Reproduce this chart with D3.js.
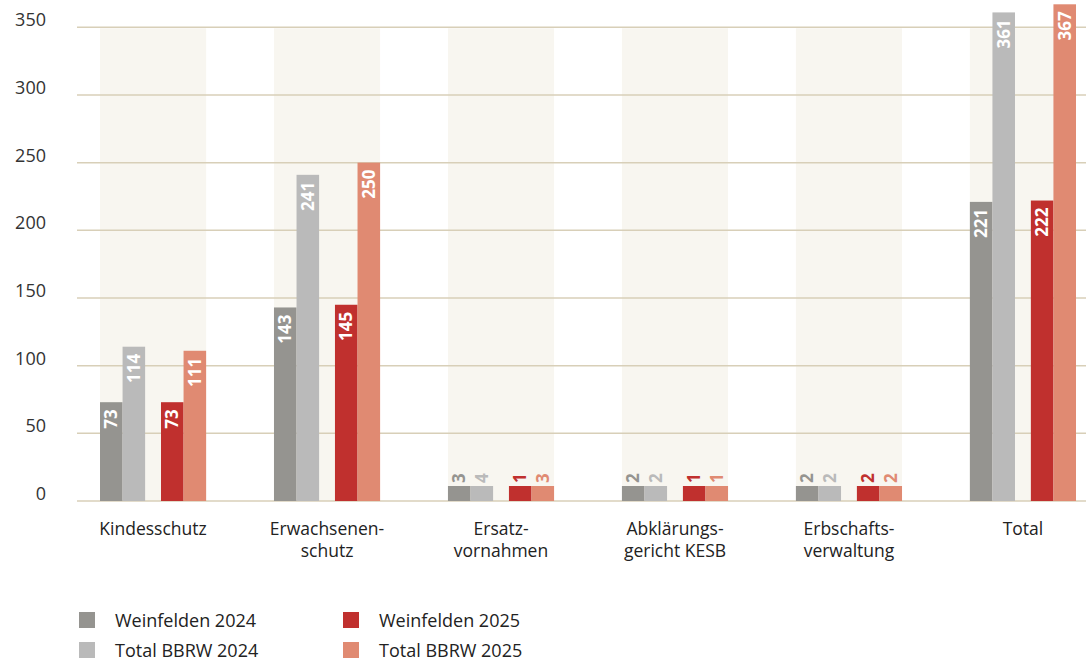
<!DOCTYPE html>
<html>
<head>
<meta charset="utf-8">
<script src="https://cdn.jsdelivr.net/npm/d3@7"></script>
<style>
  body { margin: 0; background: #fff; }
  svg { display: block; font-family: "Open Sans", "Noto Sans", sans-serif; }
</style>
</head>
<body>
<div id="chart"></div>
<script>
const categories = ["Kindesschutz", "Erwachsenen-\nschutz", "Ersatz-\nvornahmen", "Abklärungs-\ngericht KESB", "Erbschafts-\nverwaltung", "Total"];
const seriesNames = ["Weinfelden 2024", "Total BBRW 2024", "Weinfelden 2025", "Total BBRW 2025"];
const weinfelden2024 = [73, 143, 3, 2, 2, 221];
const totalBBRW2024 = [114, 241, 4, 2, 2, 361];
const weinfelden2025 = [73, 145, 1, 1, 2, 222];
const totalBBRW2025 = [111, 250, 3, 1, 2, 367];
const yTicks = [0, 50, 100, 150, 200, 250, 300, 350];

const colors = ["#959490", "#bababa", "#c0302e", "#e08a72"];
const values = [weinfelden2024, totalBBRW2024, weinfelden2025, totalBBRW2025];

const width = 1086, height = 664;
const svg = d3.select("#chart").append("svg")
  .attr("width", width)
  .attr("height", height);

const y = d3.scaleLinear().domain([0, 350]).range([501, 27.3]);

const x = d3.scaleBand()
  .domain(categories)
  .range([100, 1076])
  .paddingInner(0.39)
  .paddingOuter(0);

const pair = d3.scaleBand()
  .domain([0, 1])
  .range([0, x.bandwidth()])
  .paddingInner(0.26);

const inner = d3.scaleBand()
  .domain([0, 1])
  .range([0, pair.bandwidth()]);

const barX = (s, i) => x(categories[i]) + pair(Math.floor(s / 2)) + inner(s % 2);
const minBar = 15;
const barTop = v => Math.min(y(v), y(0) - minBar);
const isBig = v => y(0) - barTop(v) > 40;

// category background bands
svg.append("g")
  .selectAll("rect")
  .data(categories)
  .join("rect")
  .attr("x", d => x(d))
  .attr("y", y(350) + 1)
  .attr("width", x.bandwidth())
  .attr("height", y(0) - y(350) - 1)
  .attr("fill", "#f8f6f0");

// grid
svg.append("g")
  .selectAll("line")
  .data(yTicks)
  .join("line")
  .attr("x1", 77)
  .attr("x2", width)
  .attr("y1", d => y(d))
  .attr("y2", d => y(d))
  .attr("stroke", "#d8cfb8")
  .attr("stroke-width", 1.5);

svg.append("g")
  .selectAll("text")
  .data(yTicks)
  .join("text")
  .attr("x", 46)
  .attr("y", d => y(d) - 1)
  .attr("text-anchor", "end")
  .style("font-size", "18px")
  .style("fill", "#333")
  .text(d => d);

// bars
values.forEach((vals, s) => {
  const g = svg.append("g").attr("class", "series-" + s);

  g.selectAll("rect")
    .data(vals)
    .join("rect")
    .attr("x", (d, i) => barX(s, i))
    .attr("y", d => barTop(d))
    .attr("width", inner.bandwidth())
    .attr("height", d => y(0) - barTop(d))
    .attr("fill", colors[s]);

  g.selectAll("text")
    .data(vals)
    .join("text")
    .attr("transform", (d, i) => {
      const cx = barX(s, i) + inner.bandwidth() / 2;
      const ty = isBig(d) ? Math.max(barTop(d), 0) + 7 : barTop(d) - 3;
      return `translate(${cx},${ty}) rotate(-90)`;
    })
    .attr("text-anchor", d => (isBig(d) ? "end" : "start"))
    .attr("dy", "0.36em")
    .style("font-size", "17px")
    .style("font-weight", "bold")
    .style("fill", d => (isBig(d) ? "#fff" : colors[s]))
    .text(d => d);
});

// category labels, one text per line
const catLines = categories.flatMap(c =>
  c.split("\n").map((line, k) => ({ cat: c, line, k }))
);

svg.append("g")
  .selectAll("text")
  .data(catLines)
  .join("text")
  .attr("x", d => x(d.cat) + x.bandwidth() / 2)
  .attr("y", d => 535 + d.k * 22)
  .attr("text-anchor", "middle")
  .style("font-size", "17.5px")
  .style("fill", "#222")
  .text(d => d.line);

// legend
const legend = svg.append("g")
  .selectAll("g")
  .data(seriesNames)
  .join("g")
  .attr("transform", (d, i) => `translate(${i < 2 ? 79 : 343},${i % 2 === 0 ? 612 : 642})`);

legend.append("rect")
  .attr("width", 16)
  .attr("height", 16)
  .attr("fill", (d, i) => colors[i]);

legend.append("text")
  .attr("x", 36)
  .attr("y", 15)
  .style("font-size", "18px")
  .style("fill", "#222")
  .text(d => d);
</script>
</body>
</html>
